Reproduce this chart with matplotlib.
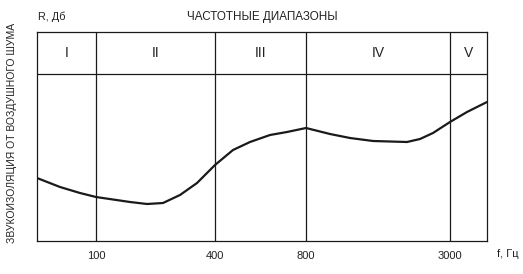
import matplotlib.pyplot as plt
import numpy as np

plt.rcParams['font.family'] = ['Liberation Sans', 'DejaVu Sans']

# curve (relative position along the frequency axis, relative sound insulation)
pos = [0, 23, 43, 59, 93, 110, 126, 143, 160, 178, 196, 213, 233, 250, 269,
       293, 313, 336, 370, 383, 396, 413, 430, 450]
r_val = [63, 54, 48, 44, 39, 37, 38, 46, 58, 76, 91, 99, 106, 109, 113,
         107, 103, 100, 99, 102, 108, 119, 129, 139]

# band boundaries and tick labels
band_edges = [0, 59, 178, 269, 413, 450]
tick_pos = [59, 178, 269, 413]
tick_labels = ["100", "400", "800", "3000"]
band_names = ["I", "II", "III", "IV", "V"]
header_y = 167
y_top = 209

W, H = 523, 274
fig = plt.figure(figsize=(W / 100, H / 100), dpi=100)
ax = fig.add_axes([37 / W, (H - 241) / H, 450 / W, 209 / H])
ax.set_xlim(band_edges[0], band_edges[-1])
ax.set_ylim(0, y_top)

for s in ax.spines.values():
    s.set_linewidth(0.9)
    s.set_color('#1a1a1a')

# grid of bands
for x in band_edges[1:-1]:
    ax.axvline(x, color='#1a1a1a', lw=0.9)
ax.axhline(header_y, color='#1a1a1a', lw=0.9)

for i, name in enumerate(band_names):
    cx = (band_edges[i] + band_edges[i + 1]) / 2
    ax.text(cx, (header_y + y_top) / 2, name, ha='center', va='center',
            fontsize=10, color='#222222')

ax.plot(pos, r_val, color='#1a1a1a', lw=1.6, solid_capstyle='round',
        solid_joinstyle='round')

ax.set_xticks(tick_pos)
ax.set_xticklabels(tick_labels, fontsize=8, color='#222222')
ax.tick_params(axis='x', length=0, pad=7)
ax.set_yticks([])

fig.text(38 / W, 1 - 17 / H, "R, Дб", fontsize=7.8, va='center', ha='left', color='#222222')
fig.text(262 / W, 1 - 17 / H, "ЧАСТОТНЫЕ ДИАПАЗОНЫ", fontsize=8.4, va='center', ha='center',
         color='#222222')
fig.text(497 / W, 1 - 254 / H, "f, Гц", fontsize=8, va='center', ha='left', color='#222222')
fig.text(12 / W, 1 - 133 / H, "ЗВУКОИЗОЛЯЦИЯ ОТ ВОЗДУШНОГО ШУМА", fontsize=7.5,
         rotation=90, va='center', ha='center', color='#222222')

fig.savefig("out.png", dpi=100)
